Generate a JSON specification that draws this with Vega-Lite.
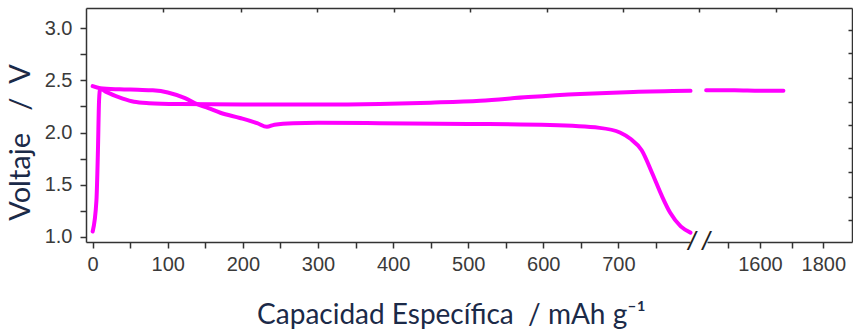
{
  "$schema": "https://vega.github.io/schema/vega-lite/v6.json",
  "width": 766,
  "height": 234,
  "autosize": {"type": "none"},
  "padding": {"left": 86, "top": 8, "right": 1, "bottom": 90},
  "background": "white",
  "view": {"stroke": null},
  "config": {
    "axis": {
      "labelFont": "Liberation Sans",
      "labelFontSize": 20,
      "labelColor": "#3a3a3a",
      "tickColor": "#333",
      "tickWidth": 1.5,
      "domainColor": "#333",
      "domainWidth": 1.5,
      "grid": false,
      "titleFont": "Lato",
      "titleFontWeight": "normal",
      "titleFontSize": 28,
      "titleColor": "#1b2a48"
    }
  },
  "datasets": {
    "curves": [
      {"series": "descarga", "seg": "d1", "cap": 0, "v": 2.445},
      {"series": "descarga", "seg": "d1", "cap": 10, "v": 2.425},
      {"series": "descarga", "seg": "d1", "cap": 36, "v": 2.415},
      {"series": "descarga", "seg": "d1", "cap": 60, "v": 2.41},
      {"series": "descarga", "seg": "d1", "cap": 80, "v": 2.405},
      {"series": "descarga", "seg": "d1", "cap": 100, "v": 2.385},
      {"series": "descarga", "seg": "d1", "cap": 123, "v": 2.33},
      {"series": "descarga", "seg": "d1", "cap": 140, "v": 2.27},
      {"series": "descarga", "seg": "d1", "cap": 154, "v": 2.235},
      {"series": "descarga", "seg": "d1", "cap": 170, "v": 2.19},
      {"series": "descarga", "seg": "d1", "cap": 196, "v": 2.14},
      {"series": "descarga", "seg": "d1", "cap": 219, "v": 2.09},
      {"series": "descarga", "seg": "d1", "cap": 232, "v": 2.055},
      {"series": "descarga", "seg": "d1", "cap": 242, "v": 2.075},
      {"series": "descarga", "seg": "d1", "cap": 267, "v": 2.09},
      {"series": "descarga", "seg": "d1", "cap": 300, "v": 2.093},
      {"series": "descarga", "seg": "d1", "cap": 382, "v": 2.09},
      {"series": "descarga", "seg": "d1", "cap": 500, "v": 2.083},
      {"series": "descarga", "seg": "d1", "cap": 609, "v": 2.072},
      {"series": "descarga", "seg": "d1", "cap": 675, "v": 2.045},
      {"series": "descarga", "seg": "d1", "cap": 702, "v": 2.0},
      {"series": "descarga", "seg": "d1", "cap": 716, "v": 1.94},
      {"series": "descarga", "seg": "d1", "cap": 731, "v": 1.83},
      {"series": "descarga", "seg": "d1", "cap": 745, "v": 1.61},
      {"series": "descarga", "seg": "d1", "cap": 758, "v": 1.39},
      {"series": "descarga", "seg": "d1", "cap": 769, "v": 1.23},
      {"series": "descarga", "seg": "d1", "cap": 783, "v": 1.1},
      {"series": "descarga", "seg": "d1", "cap": 796, "v": 1.04},
      {"series": "carga", "seg": "c1", "cap": 0, "v": 1.05},
      {"series": "carga", "seg": "c1", "cap": 5, "v": 1.35},
      {"series": "carga", "seg": "c1", "cap": 7, "v": 1.83},
      {"series": "carga", "seg": "c1", "cap": 8.5, "v": 2.31},
      {"series": "carga", "seg": "c1", "cap": 10, "v": 2.42},
      {"series": "carga", "seg": "c1", "cap": 18, "v": 2.39},
      {"series": "carga", "seg": "c1", "cap": 40, "v": 2.325},
      {"series": "carga", "seg": "c1", "cap": 55, "v": 2.295},
      {"series": "carga", "seg": "c1", "cap": 75, "v": 2.282},
      {"series": "carga", "seg": "c1", "cap": 116, "v": 2.273},
      {"series": "carga", "seg": "c1", "cap": 200, "v": 2.268},
      {"series": "carga", "seg": "c1", "cap": 300, "v": 2.268},
      {"series": "carga", "seg": "c1", "cap": 382, "v": 2.274},
      {"series": "carga", "seg": "c1", "cap": 450, "v": 2.287},
      {"series": "carga", "seg": "c1", "cap": 516, "v": 2.305},
      {"series": "carga", "seg": "c1", "cap": 580, "v": 2.34},
      {"series": "carga", "seg": "c1", "cap": 649, "v": 2.37},
      {"series": "carga", "seg": "c1", "cap": 720, "v": 2.39},
      {"series": "carga", "seg": "c1", "cap": 796, "v": 2.4},
      {"series": "carga", "seg": "c2", "cap": 1430, "v": 2.405},
      {"series": "carga", "seg": "c2", "cap": 1520, "v": 2.405},
      {"series": "carga", "seg": "c2", "cap": 1600, "v": 2.4},
      {"series": "carga", "seg": "c2", "cap": 1674, "v": 2.4}
    ],
    "brk": [{"cap": 1077, "v": 0.95}]
  },
  "layer": [
    {
      "data": {"name": "curves"},
      "mark": {"type": "line", "color": "#ff00ff", "strokeWidth": 4, "strokeCap": "round", "strokeJoin": "round", "interpolate": "monotone"},
      "encoding": {
        "x": {
          "field": "cap", "type": "quantitative",
          "scale": {"domain": [-8.9, 800, 1429.5, 1890.6], "range": [0, 607.5, 620, 766], "nice": false, "zero": false},
          "axis": {
            "orient": "bottom",
            "title": "Capacidad Específica\u00a0\u00a0/ mAh g⁻¹",
            "titleX": 365, "titleY": 81, "titleAlign": "center", "titleBaseline": "alphabetic",
            "values": [0, 50, 100, 150, 200, 250, 300, 350, 400, 450, 500, 550, 600, 650, 700, 750, 1500, 1600, 1700, 1800],
            "labelExpr": "(datum.value % 100 == 0 && datum.value != 1500 && datum.value != 1700) ? datum.label : ''",
            "format": "d",
            "tickSize": 6,
            "labelPadding": 6,
            "labelFlush": false,
            "labelOverlap": false,
            "domainDash": [604, 17, 300]
          }
        },
        "y": {
          "field": "v", "type": "quantitative",
          "scale": {"domain": [0.95, 3.195], "nice": false, "zero": false},
          "axis": {
            "orient": "left",
            "title": "Voltaje\u00a0\u00a0\u00a0/\u00a0\u00a0V",
            "titleFontSize": 29,
            "titleAngle": -90, "titleX": -66, "titleY": 134, "titleAlign": "center", "titleBaseline": "middle",
            "values": [1.0, 1.25, 1.5, 1.75, 2.0, 2.25, 2.5, 2.75, 3.0],
            "labelExpr": "(datum.value * 2) % 1 == 0 ? format(datum.value, '.1f') : ''",
            "tickSize": 6,
            "labelPadding": 8,
            "labelFlush": false,
            "labelOverlap": false
          }
        },
        "detail": {"field": "seg", "type": "nominal"}
      }
    },
    {
      "data": {"name": "brk"},
      "mark": {"type": "text", "text": "/\u00a0/", "font": "Liberation Sans", "fontSize": 26, "fontStyle": "italic", "color": "#222", "align": "center", "baseline": "middle"},
      "encoding": {
        "x": {
          "field": "cap", "type": "quantitative",
          "axis": {"orient": "top", "title": null, "labels": false, "tickSize": -4,
            "values": [94, 197, 299, 401, 502, 605, 706, 1070, 1650]}
        },
        "y": {
          "field": "v", "type": "quantitative",
          "axis": {"orient": "right", "title": null, "labels": false, "tickSize": -4,
            "values": [2.984, 2.763, 2.523, 2.292, 2.071, 1.85, 1.62, 1.381, 1.16]}
        }
      }
    }
  ],
  "resolve": {"axis": {"x": "independent", "y": "independent"}}
}
